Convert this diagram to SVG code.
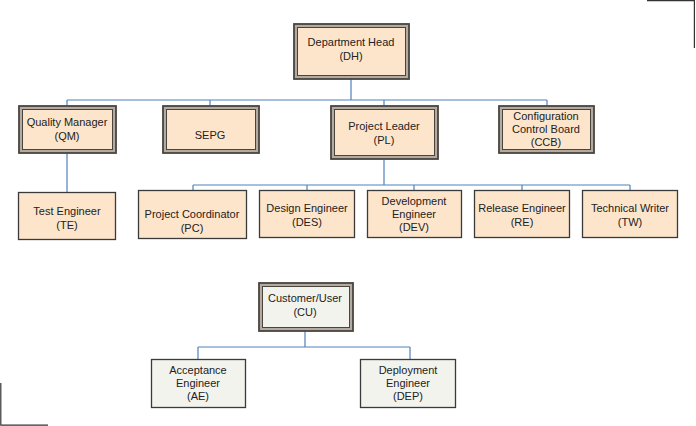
<svg xmlns="http://www.w3.org/2000/svg" width="696" height="426" viewBox="0 0 696 426">
<style>
text{font-family:"Liberation Sans",Arial,sans-serif;font-size:11px;fill:#222;text-anchor:middle}
.frame{fill:#b3aba2;stroke:#4a443f;stroke-width:1.8}
.inner{fill:#fde5cb;stroke:#4a443f;stroke-width:1}
.box{fill:#fde5cb;stroke:#3a3a3a;stroke-width:1.3}
.frameg{fill:#b3aba2;stroke:#4a443f;stroke-width:1.8}
.innerg{fill:#f2f3ec;stroke:#4a443f;stroke-width:1}
.boxg{fill:#f2f3ec;stroke:#3a3a3a;stroke-width:1.3}
.conn{fill:none;stroke:#4f81bd;stroke-width:1.2}
.crop{fill:none;stroke:#333;stroke-width:1.2}
</style>
<g id="connectors">
<path class="conn" d="M351,79 V100 M67,100 H547 M67,100 V105 M210,100 V105 M384,100 V105 M547,100 V105"/>
<path class="conn" d="M67,153 V192"/>
<path class="conn" d="M384,159 V185 M193,185 H630 M193,185 V190 M307,185 V190 M414,185 V190 M522,185 V190 M630,185 V190"/>
<path class="conn" d="M305,331 V347 M198,347 H410 M198,347 V359 M410,347 V359"/>
</g>
<g id="DH"><rect class="frame" x="294" y="24" width="115" height="55"/><rect class="inner" x="297.5" y="27.5" width="108" height="48"/><text x="351" y="46">Department Head</text><text x="351" y="60">(DH)</text></g>
<g id="QM"><rect class="frame" x="19" y="106" width="97" height="47"/><rect class="inner" x="22.5" y="109.5" width="90" height="40"/><text x="67" y="126">Quality Manager</text><text x="67" y="140">(QM)</text></g>
<g id="SEPG"><rect class="frame" x="163" y="106" width="96" height="47"/><rect class="inner" x="166.5" y="109.5" width="89" height="40"/><text x="210" y="139">SEPG</text></g>
<g id="PL"><rect class="frame" x="331" y="106" width="107" height="53"/><rect class="inner" x="334.5" y="109.5" width="100" height="46"/><text x="384" y="130">Project Leader</text><text x="384" y="144">(PL)</text></g>
<g id="CCB"><rect class="frame" x="499" y="106" width="95" height="47"/><rect class="inner" x="502.5" y="109.5" width="88" height="40"/><text x="546" y="120">Configuration</text><text x="546" y="133">Control Board</text><text x="546" y="146">(CCB)</text></g>
<g id="TE"><rect class="box" x="18.5" y="192.5" width="97" height="47"/><text x="67" y="215">Test Engineer</text><text x="67" y="229">(TE)</text></g>
<g id="PC"><rect class="box" x="138.5" y="190.5" width="108" height="48"/><text x="192" y="218">Project Coordinator</text><text x="192" y="232">(PC)</text></g>
<g id="DES"><rect class="box" x="259.5" y="190.5" width="95" height="47"/><text x="307" y="212">Design Engineer</text><text x="307" y="226">(DES)</text></g>
<g id="DEV"><rect class="box" x="367.5" y="190.5" width="94" height="47"/><text x="414" y="205">Development</text><text x="414" y="218">Engineer</text><text x="414" y="231">(DEV)</text></g>
<g id="RE"><rect class="box" x="474.5" y="190.5" width="95" height="47"/><text x="522" y="212">Release Engineer</text><text x="522" y="226">(RE)</text></g>
<g id="TW"><rect class="box" x="582.5" y="190.5" width="95" height="47"/><text x="630" y="212">Technical Writer</text><text x="630" y="226">(TW)</text></g>
<g id="CU"><rect class="frameg" x="259" y="283" width="94" height="48"/><rect class="innerg" x="262.5" y="286.5" width="87" height="41"/><text x="305" y="302">Customer/User</text><text x="305" y="316">(CU)</text></g>
<g id="AE"><rect class="boxg" x="151.5" y="359.5" width="94" height="48"/><text x="198" y="374">Acceptance</text><text x="198" y="387">Engineer</text><text x="198" y="400">(AE)</text></g>
<g id="DEP"><rect class="boxg" x="360.5" y="359.5" width="95" height="48"/><text x="408" y="374">Deployment</text><text x="408" y="387">Engineer</text><text x="408" y="400">(DEP)</text></g>
<path class="crop" d="M647,0.6 H694.4 V48"/>
<path class="crop" d="M0.8,383 V425.2 H48"/>
</svg>
